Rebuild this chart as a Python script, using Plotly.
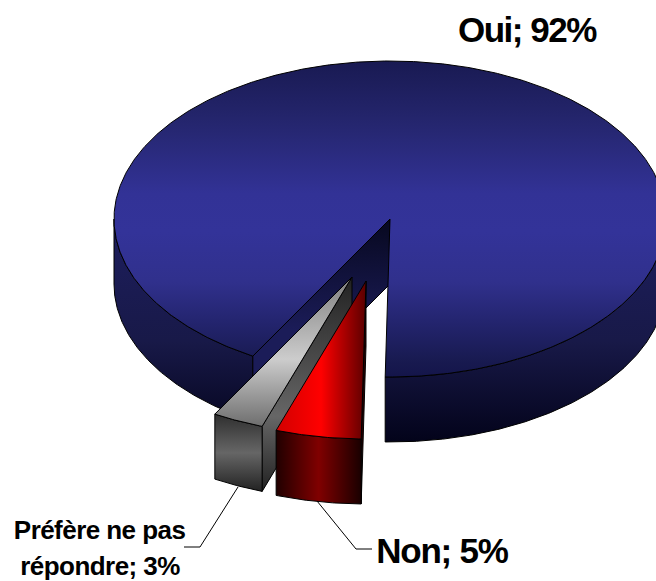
import math
import plotly.graph_objects as go

# ---- data ----
labels = ["Oui", "Non", "Préfère ne pas répondre"]
values = [92, 5, 3]
slice_centres = [(390, 219), (366, 281), (352, 277)]  # exploded pie centres in image space
start_angle = 29.8   # degrees, measured clockwise from straight down
RX, RY, DEPTH = 276, 158, 65
W, H = 656, 581

# ---- gradients ----
BLUE_TOP = [[0, "#191a52"], [0.2, "#25266f"], [0.42, "#323296"], [0.54, "#333399"],
            [0.7, "#30308c"], [0.82, "#242570"], [0.95, "#181a50"], [1, "#14154a"]]
BLUE_WALL = [[0, "#1d1e5e"], [0.55, "#181948"], [1, "#03031a"]]
BLUE_CUT = [[0, "#07081f"], [0.55, "#1b1c58"], [1, "#1b1c58"]]
RED_TOP = [[0, "#d20000"], [0.5, "#ff0000"], [1, "#5a0000"]]
RED_WALL = [[0, "#200000"], [0.5, "#800000"], [1, "#1a0000"]]
GREY_TOP = [[0, "#808080"], [0.55, "#cccccc"], [1, "#6e6e6e"]]
GREY_CUT = [[0, "#222222"], [0.65, "#666666"], [1, "#222222"]]
GREY_WALL = [[0, "#2e2e2e"], [0.5, "#666666"], [1, "#222222"]]


def pt(c, t, dz=0):
    a = math.radians(t)
    return c[0] - RX * math.sin(a), c[1] + RY * math.cos(a) + dz


def arc(c, t0, t1, dz=0):
    n = max(2, int(abs(t1 - t0) * 2))
    return [pt(c, t0 + (t1 - t0) * i / n, dz) for i in range(n + 1)]


fig = go.Figure()


def poly(points, colors, kind="vertical", start=None, stop=None):
    xs = [p[0] for p in points] + [points[0][0]]
    ys = [p[1] for p in points] + [points[0][1]]
    axis = ys if kind == "vertical" else xs
    fig.add_trace(go.Scatter(
        x=xs, y=ys, mode="lines", fill="toself",
        line=dict(color="#000000", width=1),
        fillgradient=dict(type=kind, colorscale=colors,
                          start=min(axis) if start is None else start,
                          stop=max(axis) if stop is None else stop),
        hoverinfo="skip", showlegend=False,
    ))


# cumulative slice angles, from the values
total = sum(values)
spans = []
a = start_angle
for v in values:
    spans.append((a, a + v / total * 360))
    a += v / total * 360
(o0, o1), (n0, n1), (g0, g1) = spans
n0, n1 = n0 - 360, n1 - 360
g0, g1 = g0 - 360, g1 - 360
co, cn, cg = slice_centres

# Oui: outer walls, cut wall, top
for t0, t1 in ((o0, 90), (270, o1)):
    top_edge = arc(co, t0, t1)
    poly(top_edge + arc(co, t1, t0, DEPTH), BLUE_WALL, start=co[1], stop=co[1] + RY + DEPTH)
poly([co, pt(co, o0), pt(co, o0, DEPTH), (co[0], co[1] + DEPTH)], BLUE_CUT)
poly([co] + arc(co, o0, o1), BLUE_TOP, start=co[1] - RY, stop=co[1] + RY)

# Préfère: cut wall, outer wall, top
poly([cg, pt(cg, g0), pt(cg, g0, DEPTH), (cg[0], cg[1] + DEPTH)], GREY_CUT)
poly(arc(cg, g0, g1) + arc(cg, g1, g0, DEPTH), GREY_WALL)
poly([cg] + arc(cg, g0, g1), GREY_TOP)

# Non: cut wall, outer wall, top
poly([cn, pt(cn, n0), pt(cn, n0, DEPTH), (cn[0], cn[1] + DEPTH)],
     [[0, "#300000"], [1, "#200000"]])
poly(arc(cn, n0, n1) + arc(cn, n1, n0, DEPTH), RED_WALL, kind="horizontal")
poly([cn] + arc(cn, n0, n1), RED_TOP, kind="horizontal")

shapes = [
    dict(type="path", path="M 238 487 L 200 547 L 184 547",
         line=dict(color="#000000", width=1), xref="x", yref="y"),
    dict(type="path", path="M 317 501 L 356 549 L 372 549",
         line=dict(color="#000000", width=1), xref="x", yref="y"),
]


def text_label(x, y, s, size):
    return dict(x=x, y=y, text=s, showarrow=False, xref="x", yref="y",
                xanchor="center", yanchor="middle", align="center",
                font=dict(family="Liberation Sans", size=size, color="#000000", weight="bold"))


annotations = [
    text_label(526.5, 29, f"{labels[0]}; {values[0]}%", 35),
    text_label(442, 550, f"{labels[1]}; {values[1]}%", 35),
    text_label(99, 530, "Préfère ne pas", 26),
    text_label(100, 566, f"répondre; {values[2]}%", 26),
]

fig.update_layout(
    width=W, height=H, autosize=False,
    margin=dict(l=0, r=0, t=0, b=0),
    paper_bgcolor="#ffffff", plot_bgcolor="#ffffff",
    xaxis=dict(range=[0, W], visible=False, fixedrange=True),
    yaxis=dict(range=[H, 0], visible=False, fixedrange=True),
    shapes=shapes, annotations=annotations, showlegend=False,
)
post = """
document.body.style.margin = '0';
document.body.style.overflow = 'hidden';
var sp = ['-1.5px', '-1.2px', '-0.55px', '-0.55px'];
document.querySelectorAll('.annotation-text').forEach(function (e, i) { e.style.letterSpacing = sp[i]; });
"""
fig.write_html("out.html", config={"displayModeBar": False}, post_script=post)
